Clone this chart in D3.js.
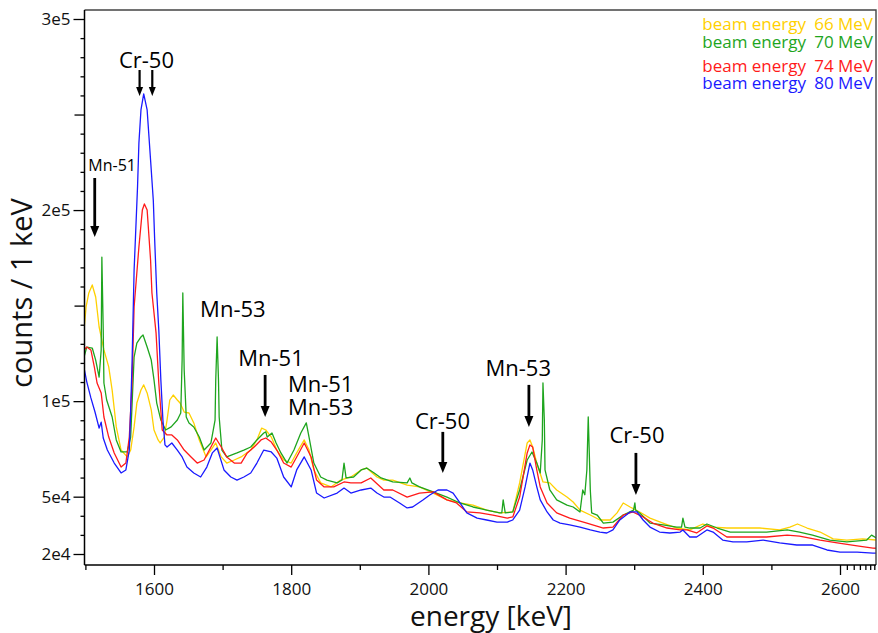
<!DOCTYPE html>
<html><head><meta charset="utf-8">
<script src="https://cdn.jsdelivr.net/npm/d3@7"></script>
<style>
html,body{margin:0;padding:0;background:#fff;}
svg{display:block;font-family:"Open Sans",sans-serif;}
</style></head><body>
<svg id="chart" width="878" height="633"></svg>
<script>
// ---------------- data ----------------
const xTickValues = [1600, 1800, 2000, 2200, 2400, 2600];
const xMinorTicks = [1500, 1700, 1900, 2100, 2300, 2500];
const xEndTicks = [2610, 2620, 2629, 2637, 2644, 2650];
const yTickValues = [20000, 50000, 100000, 200000, 300000];
const yMidTicks = [150000, 250000];
const yMinorTicks = d3.range(30000, 300000, 10000);
const beamEnergies = ["66 MeV", "70 MeV", "74 MeV", "80 MeV"];
const seriesColors = ["#FFD000", "#1EA51E", "#FF1A1A", "#1A1AFF"];

// [energy keV, counts per keV]
const spectrum66 = [[1498,137200],[1501,149300],[1505,156600],[1510,160800],[1515,154500],[1520,138800],[1527,126800],[1534,117900],[1539,105800],[1545,86500],[1552,74400],[1561,70800],[1566,74400],[1571,86500],[1575,99000],[1581,105800],[1585,108500],[1590,104300],[1596,95400],[1600,84900],[1606,79700],[1609,78100],[1615,81200],[1619,90100],[1623,100600],[1628,103200],[1634,100600],[1638,99000],[1644,94300],[1651,93800],[1658,88600],[1666,79700],[1676,70800],[1683,74400],[1690,78100],[1698,70800],[1706,67600],[1717,69200],[1727,70800],[1741,74400],[1750,79700],[1757,85900],[1763,84900],[1771,81200],[1779,74400],[1789,69200],[1800,67600],[1808,72900],[1819,79700],[1826,74400],[1833,64000],[1843,57200],[1858,55100],[1872,58700],[1887,60300],[1902,64000],[1910,65000],[1925,60300],[1935,58700],[1948,58700],[1969,56100],[1987,55100],[2007,51900],[2027,48300],[2046,46700],[2065,45600],[2085,43000],[2104,41500],[2123,42000],[2133,57200],[2144,78100],[2148,79700],[2152,76000],[2158,67600],[2167,57700],[2177,57200],[2187,53500],[2202,49800],[2211,47200],[2221,43000],[2236,40400],[2250,37800],[2265,37800],[2275,41500],[2284,46700],[2294,44600],[2308,42000],[2323,38800],[2342,36200],[2362,33600],[2381,32600],[2400,35700],[2415,34100],[2435,33600],[2454,33600],[2483,33600],[2512,32600],[2527,34100],[2538,35700],[2552,33600],[2571,31500],[2590,27900],[2610,27300],[2633,27900],[2653,27300]];

const spectrum70 = [[1498,123100],[1502,128300],[1510,127800],[1515,121500],[1520,112600],[1523,126800],[1524,175400],[1526,137200],[1527,109500],[1531,100600],[1539,91700],[1545,79700],[1552,73400],[1561,73400],[1566,81200],[1571,123100],[1575,130400],[1581,133600],[1584,134600],[1590,128300],[1596,121500],[1600,111100],[1604,99000],[1610,90100],[1617,84900],[1625,86500],[1634,90100],[1639,93800],[1641,121500],[1642,156600],[1644,116300],[1647,91700],[1651,88600],[1658,86500],[1666,81200],[1673,74400],[1683,78100],[1689,90100],[1690,111100],[1692,133600],[1694,111100],[1695,91700],[1699,74400],[1706,70800],[1721,72900],[1731,74400],[1741,76000],[1750,79700],[1760,83300],[1763,83900],[1765,81200],[1772,83300],[1778,78100],[1785,72900],[1794,67600],[1804,74400],[1814,83300],[1822,88600],[1826,81200],[1833,67600],[1843,60300],[1852,58700],[1867,57200],[1874,58700],[1877,67600],[1880,59800],[1891,60300],[1902,64000],[1910,65000],[1921,62400],[1931,59800],[1948,57700],[1969,57200],[1973,59800],[1976,57200],[1987,55100],[2007,52500],[2027,49800],[2046,46700],[2065,44600],[2085,43000],[2104,41500],[2107,41500],[2109,48300],[2112,41500],[2123,42000],[2133,53500],[2144,69200],[2151,73400],[2158,67600],[2163,62400],[2166,79700],[2167,109500],[2169,90100],[2170,64000],[2177,53500],[2187,48300],[2202,45600],[2211,44600],[2221,42000],[2225,53500],[2228,51000],[2231,64000],[2233,91700],[2234,79700],[2236,53500],[2238,41500],[2246,40400],[2255,36200],[2269,36700],[2284,40400],[2299,43000],[2301,46700],[2302,43000],[2308,41500],[2323,36200],[2342,35200],[2362,34100],[2369,34100],[2371,38800],[2374,34100],[2381,33600],[2396,33600],[2406,35700],[2421,33600],[2440,31500],[2464,31500],[2493,31500],[2523,32600],[2541,31500],[2560,29900],[2585,27300],[2610,26300],[2639,27300],[2646,29900],[2653,28400]];

const spectrum74 = [[1498,126800],[1502,128300],[1508,126800],[1513,117900],[1517,109500],[1523,104300],[1527,91700],[1534,81200],[1542,72900],[1552,65500],[1559,67600],[1564,81200],[1568,109500],[1571,149300],[1578,180700],[1583,200000],[1586,203200],[1590,200000],[1595,173900],[1597,156600],[1603,135700],[1607,109500],[1612,84900],[1619,82300],[1626,82300],[1634,79700],[1644,74400],[1654,70800],[1663,67600],[1673,69200],[1683,76000],[1690,80700],[1698,76000],[1706,70800],[1717,67600],[1727,67600],[1736,72900],[1746,76000],[1756,79700],[1763,80700],[1771,78600],[1779,74400],[1789,67600],[1800,65500],[1808,70800],[1819,78100],[1829,70800],[1837,58700],[1848,55100],[1862,55100],[1877,57700],[1887,57200],[1902,57200],[1916,59800],[1935,53500],[1948,53500],[1969,49800],[1987,51900],[2007,52500],[2027,48300],[2041,46700],[2056,42000],[2075,41500],[2094,40400],[2115,38800],[2123,39400],[2133,49800],[2144,72900],[2148,77100],[2152,76000],[2158,64000],[2163,55100],[2173,46700],[2187,41500],[2206,38800],[2231,36200],[2255,33600],[2269,34100],[2284,40400],[2298,42000],[2313,39400],[2327,36200],[2348,33600],[2367,32600],[2377,32600],[2391,31000],[2406,34700],[2415,33600],[2435,28900],[2464,28900],[2493,28900],[2523,29900],[2541,29400],[2571,27300],[2596,25800],[2625,24200],[2648,23100],[2653,23000]];

const spectrum80 = [[1498,117400],[1502,110100],[1508,101700],[1514,94300],[1520,85900],[1523,89000],[1526,80700],[1532,74400],[1542,67600],[1552,62400],[1559,64000],[1564,74400],[1566,95400],[1568,120000],[1571,168600],[1573,185900],[1576,212200],[1578,235100],[1581,252400],[1585,260800],[1590,252400],[1595,226200],[1599,205000],[1601,184300],[1604,156600],[1607,137200],[1610,111100],[1613,90100],[1616,77100],[1619,76000],[1626,78100],[1634,74400],[1641,70800],[1648,65500],[1658,62400],[1668,60300],[1677,65500],[1685,72900],[1692,75500],[1702,64000],[1712,60300],[1721,58700],[1731,60300],[1741,62400],[1750,67600],[1760,74400],[1771,73400],[1779,70200],[1789,60300],[1800,55100],[1808,64000],[1819,70800],[1829,64000],[1837,51900],[1848,49300],[1867,51900],[1877,54500],[1887,51900],[1902,53500],[1916,54500],[1925,51900],[1935,49800],[1944,49800],[1958,46700],[1969,44100],[1977,44600],[1992,48300],[2002,50900],[2014,53500],[2027,53500],[2036,51900],[2046,46700],[2056,41500],[2071,38800],[2085,37800],[2100,36700],[2115,36700],[2123,37800],[2133,43000],[2141,55100],[2148,67600],[2152,64000],[2158,55100],[2163,48300],[2173,42000],[2182,37800],[2192,36200],[2206,35200],[2221,34100],[2236,32600],[2250,31500],[2260,31000],[2269,32600],[2279,37800],[2294,42000],[2304,42000],[2313,37800],[2323,34100],[2337,31500],[2352,31000],[2367,31500],[2371,32600],[2381,28900],[2391,28900],[2406,32600],[2415,31500],[2429,27300],[2444,26300],[2464,26300],[2488,27300],[2512,25800],[2537,24700],[2560,24700],[2581,22100],[2600,21000],[2625,21000],[2648,20500],[2653,20500]];

const spectra = [spectrum66, spectrum70, spectrum74, spectrum80];

// annotation labels: text, energy (keV), count level of the text baseline
const labelTexts = ["Cr-50", "Mn-51", "Mn-53", "Mn-51", "Mn-51", "Mn-53", "Cr-50", "Mn-53", "Cr-50"];
const labelEnergies = [1589, 1539, 1715, 1770.5, 1843, 1843, 2020.5, 2131, 2304];
const labelCounts = [274400, 220500, 144000, 118400, 104800, 92800, 85400, 113200, 78100];
const labelSmall = [false, true, false, false, false, false, false, false, false];
// arrows: energy, start count, tip count
const arrowEnergies = [1579, 1597.5, 1513.6, 1762, 2021, 2146.5, 2302.5];
const arrowFrom = [273300, 273300, 216800, 113700, 83900, 108500, 72900];
const arrowTo = [259700, 259700, 185900, 91700, 62400, 86500, 50900];
const arrowSmall = [true, true, false, false, false, false, false];

// ---------------- drawing ----------------
const plot = {left: 84.5, right: 876, top: 10, bottom: 565};
const x = d3.scaleLinear().domain([1500, 2600]).range([85.4, 840]);
const y = d3.scaleLinear().domain([20000, 300000]).range([554, 19]);
const svg = d3.select("#chart");

svg.append("defs").append("clipPath").attr("id", "clip").append("rect")
  .attr("x", plot.left).attr("y", plot.top)
  .attr("width", plot.right - plot.left).attr("height", plot.bottom - plot.top);

const line = d3.line().x(d => x(d[0])).y(d => y(d[1]));
const lines = svg.append("g").attr("clip-path", "url(#clip)");
spectra.forEach((s, i) => {
  lines.append("path").attr("d", line(s)).attr("fill", "none")
    .attr("stroke", seriesColors[i]).attr("stroke-width", 1.3)
    .attr("stroke-linejoin", "round");
});

// frame (top and right)
svg.append("path").attr("d", `M${plot.left},${plot.top}H${plot.right}V${plot.bottom}`)
  .attr("fill", "none").attr("stroke", "#444").attr("stroke-width", 1.4);

function styleAxis(g) {
  g.select(".domain").remove();
  g.selectAll(".tick line").attr("stroke", "#000").attr("stroke-width", 1.3);
  g.selectAll(".tick text").attr("font-family", "'Open Sans', sans-serif")
    .attr("font-size", 17).attr("fill", "#111");
}

// x axis
svg.append("g").attr("transform", `translate(0,${plot.bottom})`)
  .call(d3.axisBottom(x).tickValues(xTickValues).tickSize(10).tickPadding(8).tickFormat(d3.format("d")))
  .call(styleAxis);
svg.append("g").attr("transform", `translate(0,${plot.bottom})`)
  .call(d3.axisBottom(x).tickValues(xMinorTicks.concat(xEndTicks)).tickSize(5).tickFormat(""))
  .call(styleAxis);

// y axis
const sciFormat = v => { const e = Math.floor(Math.log10(v)); return Math.round(v / Math.pow(10, e)) + "e" + e; };
svg.append("g").attr("transform", `translate(${plot.left},0)`)
  .call(d3.axisLeft(y).tickValues(yTickValues).tickSize(11).tickPadding(3).tickFormat(sciFormat))
  .call(styleAxis);
svg.append("g").attr("transform", `translate(${plot.left},0)`)
  .call(d3.axisLeft(y).tickValues(yMidTicks).tickSize(10).tickFormat(""))
  .call(styleAxis);
svg.append("g").attr("transform", `translate(${plot.left},0)`)
  .call(d3.axisLeft(y).tickValues(yMinorTicks.filter(v => !yTickValues.includes(v) && !yMidTicks.includes(v))).tickSize(4).tickFormat(""))
  .call(styleAxis);

// axis lines
svg.append("line").attr("x1", plot.left).attr("x2", plot.right).attr("y1", plot.bottom).attr("y2", plot.bottom)
  .attr("stroke", "#000").attr("stroke-width", 1.5);
svg.append("line").attr("x1", plot.left).attr("x2", plot.left).attr("y1", plot.top).attr("y2", plot.bottom)
  .attr("stroke", "#000").attr("stroke-width", 1.5);

// axis titles
svg.append("text").attr("x", 491).attr("y", 626).attr("text-anchor", "middle")
  .attr("font-size", 28).attr("fill", "#111").text("energy [keV]");
svg.append("text").attr("transform", "translate(32,293) rotate(-90)").attr("text-anchor", "middle")
  .attr("font-size", 29).attr("fill", "#111").text("counts / 1 keV");

// legend
const legendY = [29.5, 48.3, 71.7, 89.3];
beamEnergies.forEach((b, i) => {
  svg.append("text").attr("x", 806).attr("y", legendY[i]).attr("text-anchor", "end")
    .attr("font-size", 17).attr("fill", seriesColors[i]).text("beam energy");
  svg.append("text").attr("x", 873).attr("y", legendY[i]).attr("text-anchor", "end")
    .attr("font-size", 17).attr("fill", seriesColors[i]).text(b);
});

// annotations
labelTexts.forEach((t, i) => {
  svg.append("text").attr("x", x(labelEnergies[i])).attr("y", y(labelCounts[i]))
    .attr("text-anchor", "middle").attr("font-size", labelSmall[i] ? 16 : 22)
    .attr("fill", "#000").text(t);
});
arrowEnergies.forEach((e, i) => {
  const xp = x(e), y1 = y(arrowFrom[i]), y2 = y(arrowTo[i]);
  const hw = arrowSmall[i] ? 7 : 9, hl = arrowSmall[i] ? 9 : 11, sw = arrowSmall[i] ? 2.2 : 2.8;
  svg.append("line").attr("x1", xp).attr("x2", xp).attr("y1", y1).attr("y2", y2 - hl + 1)
    .attr("stroke", "#000").attr("stroke-width", sw);
  svg.append("path").attr("d", `M${xp - hw / 2},${y2 - hl}L${xp + hw / 2},${y2 - hl}L${xp},${y2}Z`)
    .attr("fill", "#000");
});
</script>
</body></html>
